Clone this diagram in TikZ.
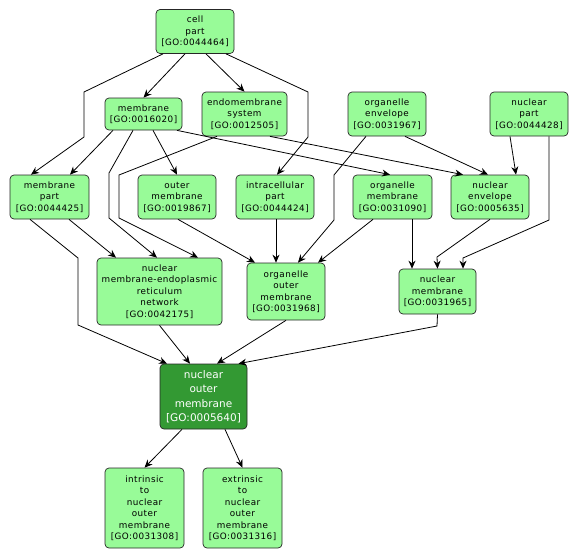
\documentclass[tikz,border=0pt]{standalone}
\usepackage{fontspec}
\usepackage{tikz}
\usetikzlibrary{arrows.meta}
\usepackage{xcolor}
\newfontfamily\termfont{DejaVu Sans}[LetterSpace=5.0]
\newfontfamily\focusfont{DejaVu Sans}
\definecolor{termgreen}{RGB}{152,251,152}
\definecolor{focusgreen}{RGB}{51,153,51}
\newcommand{\goid}[1]{{[GO:#1]}}

\begin{document}
\begin{tikzpicture}[
    x=1pt, y=-1pt,
    term/.style={
      rectangle, rounded corners=4pt,
      draw=black!85, fill=termgreen, line width=0.7pt,
      minimum width=78pt, minimum height=44pt,
      align=center, inner sep=1pt,
      font=\termfont\fontsize{8.8}{11.5}\selectfont
    },
    focus/.style={
      term, fill=focusgreen, text=white,
      font=\focusfont\fontsize{10.5}{14.5}\selectfont
    },
    arrow/.style={-{Stealth[length=8pt, width=7pt]}, line width=0.8pt, draw=black}
  ]
    \useasboundingbox (0,0) rectangle (580,558);

    % terms, top to bottom
    \node[term] (cellpart) at (195,31.5) {cell\\part\\\goid{0044464}};
    \node[term, minimum width=77pt, minimum height=32pt] (membrane) at (143.5,114) {membrane\\\goid{0016020}};
    \node[term, minimum width=85pt] (endomem) at (244.5,114) {endomembrane\\system\\\goid{0012505}};
    \node[term] (orgenv) at (387,114) {organelle\\envelope\\\goid{0031967}};
    \node[term] (nucpart) at (529,114) {nuclear\\part\\\goid{0044428}};

    \node[term, minimum width=79pt] (membpart) at (49.5,197) {membrane\\part\\\goid{0044425}};
    \node[term] (outermemb) at (177,197) {outer\\membrane\\\goid{0019867}};
    \node[term] (intrapart) at (275,197) {intracellular\\part\\\goid{0044424}};
    \node[term, minimum width=79pt] (orgmemb) at (392.5,197) {organelle\\membrane\\\goid{0031090}};
    \node[term] (nucenv) at (490,197) {nuclear\\envelope\\\goid{0005635}};

    \node[term, minimum width=125pt, minimum height=67pt] (nmer) at (159.5,291.5)
      {nuclear\\membrane-endoplasmic\\reticulum\\network\\\goid{0042175}};
    \node[term, minimum height=57pt] (orgoutmemb) at (286,291.5) {organelle\\outer\\membrane\\\goid{0031968}};
    \node[term, minimum width=77pt, minimum height=45pt] (nucmemb) at (437.5,291.5) {nuclear\\membrane\\\goid{0031965}};

    \node[focus, minimum width=87pt, minimum height=65pt] (nom) at (203.5,396.5) {nuclear\\outer\\membrane\\\goid{0005640}};

    \node[term, minimum width=79pt, minimum height=80pt] (intrinsic) at (144.5,508) {intrinsic\\to\\nuclear\\outer\\membrane\\\goid{0031308}};
    \node[term, minimum width=79pt, minimum height=80pt] (extrinsic) at (242.5,508) {extrinsic\\to\\nuclear\\outer\\membrane\\\goid{0031316}};

    % is_a / part_of links
    \draw[arrow] ([xshift=-32pt]cellpart.south) -- (84,92) -- (84,137) -- ([xshift=-18.5pt]membpart.north);
    \draw[arrow] ([xshift=-10pt]cellpart.south) -- (membrane.north);
    \draw[arrow] ([xshift=11pt]cellpart.south) -- (endomem.north);
    \draw[arrow] ([xshift=31pt]cellpart.south) -- (308,92) -- (308,137) -- ([xshift=2pt]intrapart.north);

    \draw[arrow] ([xshift=-30.5pt]membrane.south) -- ([xshift=20.5pt]membpart.north);
    \draw[arrow] ([xshift=-10.5pt]membrane.south) -- (109,173) -- (109,218) -- ([xshift=-2.5pt]nmer.north);
    \draw[arrow] ([xshift=9.5pt]membrane.south) -- (outermemb.north);
    \draw[arrow] ([xshift=33.5pt]membrane.south) -- ([xshift=-2.5pt]orgmemb.north);

    \draw[arrow] ([xshift=25.5pt]endomem.south) -- ([xshift=-27pt]nucenv.north);
    \draw[arrow] ([xshift=-27.5pt]endomem.south) -- (119,175) -- (119,218) -- ([xshift=38.5pt]nmer.north);

    \draw[arrow] ([xshift=-21pt]orgenv.south) -- (334,175) -- (334,220) -- ([xshift=12pt]orgoutmemb.north);
    \draw[arrow] ([xshift=18pt]orgenv.south) -- ([xshift=-2pt]nucenv.north);

    \draw[arrow] ([xshift=-19pt]nucpart.south) -- ([xshift=26pt]nucenv.north);
    \draw[arrow] ([xshift=20pt]nucpart.south) -- (549,220) -- (463,258) -- ([xshift=25.5pt]nucmemb.north);

    \draw[arrow] ([xshift=19.5pt]membpart.south) -- ([xshift=-43.5pt]nmer.north);
    \draw[arrow] ([xshift=-19.5pt]membpart.south) -- (78,258) -- (78,325) -- ([xshift=-36.5pt]nom.north);

    \draw[arrow] ([xshift=1pt]outermemb.south) -- ([xshift=-31pt]orgoutmemb.north);
    \draw[arrow] ([xshift=1pt]intrapart.south) -- ([xshift=-10pt]orgoutmemb.north);
    \draw[arrow] ([xshift=-19.5pt]orgmemb.south) -- ([xshift=32pt]orgoutmemb.north);
    \draw[arrow] ([xshift=19.5pt]orgmemb.south) -- ([xshift=-25.5pt]nucmemb.north);
    \draw[arrow] (nucenv.south) -- (437,257) -- (nucmemb.north);

    \draw[arrow] (nmer.south) -- ([xshift=-13.5pt]nom.north);
    \draw[arrow] (orgoutmemb.south) -- ([xshift=13.5pt]nom.north);
    \draw[arrow] (nucmemb.south) -- (437,326) -- ([xshift=35pt]nom.north);

    \draw[arrow] ([xshift=-21.5pt]nom.south) -- (intrinsic.north);
    \draw[arrow] ([xshift=21.5pt]nom.south) -- (extrinsic.north);
  \end{tikzpicture}
\end{document}
